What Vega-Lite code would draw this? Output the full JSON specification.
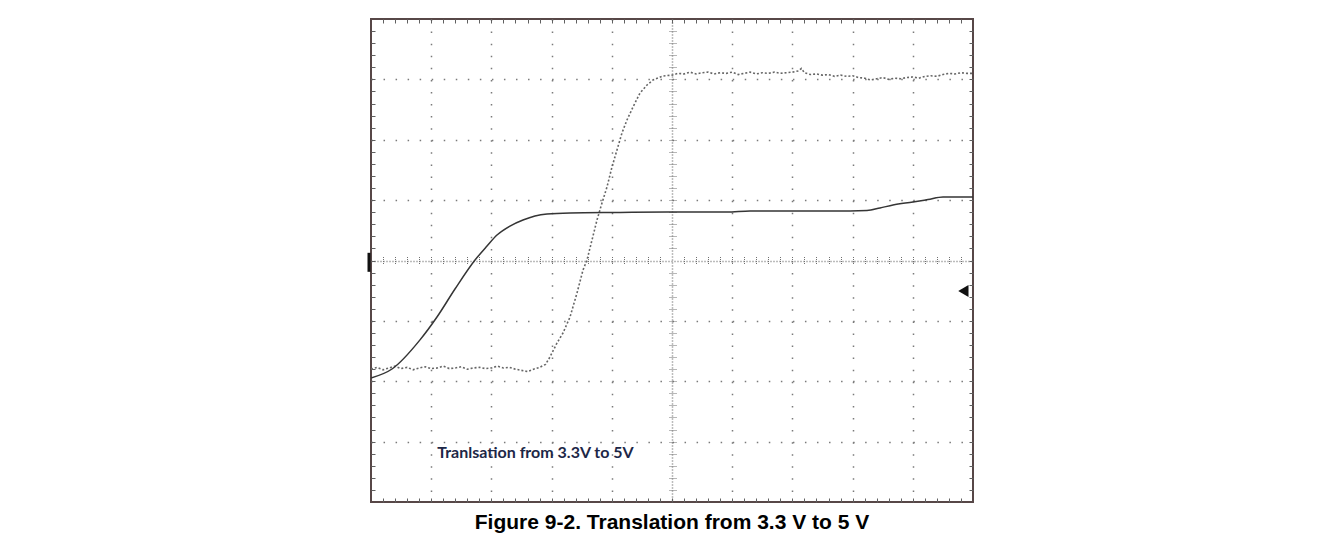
{
  "$schema": "https://vega.github.io/schema/vega-lite/v6.json",
  "width": 602,
  "height": 483,
  "autosize": "none",
  "padding": {"left": 371, "top": 19, "right": 363, "bottom": 48},
  "background": "#ffffff",
  "title": {"text": "Figure 9-2. Translation from 3.3 V to 5 V", "orient": "bottom", "anchor": "middle", "font": "Liberation Sans", "fontSize": 21, "fontWeight": "bold", "color": "#000000", "offset": 9, "baseline": "top"},
  "config": {"view": {"stroke": "#574747", "strokeWidth": 2}},
  "datasets": {
    "input": [
      {"t": 0, "v": -1.946}, {"t": 0.349, "v": -1.797}, {"t": 0.814, "v": -1.315}, {"t": 1.096, "v": -0.936},
      {"t": 1.395, "v": -0.472}, {"t": 1.728, "v": 0.008}, {"t": 1.927, "v": 0.24}, {"t": 2.093, "v": 0.422},
      {"t": 2.309, "v": 0.571}, {"t": 2.525, "v": 0.671}, {"t": 2.724, "v": 0.737}, {"t": 2.924, "v": 0.77},
      {"t": 3.306, "v": 0.787}, {"t": 4.136, "v": 0.795}, {"t": 5.0, "v": 0.803}, {"t": 5.914, "v": 0.803},
      {"t": 6.296, "v": 0.82}, {"t": 7.126, "v": 0.82}, {"t": 7.957, "v": 0.82}, {"t": 8.239, "v": 0.828},
      {"t": 8.455, "v": 0.87}, {"t": 8.671, "v": 0.919}, {"t": 9.003, "v": 0.969}, {"t": 9.252, "v": 1.01},
      {"t": 9.502, "v": 1.052}, {"t": 9.751, "v": 1.052}, {"t": 10, "v": 1.052}
    ],
    "output": [
      {"t": 0, "v": -1.8}, {"t": 0.1, "v": -1.77}, {"t": 0.2, "v": -1.81}, {"t": 0.3, "v": -1.78}, {"t": 0.4, "v": -1.75},
      {"t": 0.5, "v": -1.79}, {"t": 0.6, "v": -1.77}, {"t": 0.7, "v": -1.81}, {"t": 0.8, "v": -1.78}, {"t": 0.9, "v": -1.76},
      {"t": 1.0, "v": -1.79}, {"t": 1.1, "v": -1.78}, {"t": 1.2, "v": -1.75}, {"t": 1.3, "v": -1.79}, {"t": 1.4, "v": -1.78},
      {"t": 1.5, "v": -1.76}, {"t": 1.6, "v": -1.8}, {"t": 1.7, "v": -1.78}, {"t": 1.8, "v": -1.77}, {"t": 1.9, "v": -1.79},
      {"t": 2.0, "v": -1.78}, {"t": 2.1, "v": -1.75}, {"t": 2.2, "v": -1.78}, {"t": 2.3, "v": -1.77}, {"t": 2.4, "v": -1.8},
      {"t": 2.5, "v": -1.82}, {"t": 2.6, "v": -1.84}, {"t": 2.7, "v": -1.8}, {"t": 2.8, "v": -1.77}, {"t": 2.9, "v": -1.72},
      {"t": 2.973, "v": -1.598}, {"t": 3.09, "v": -1.366}, {"t": 3.189, "v": -1.201}, {"t": 3.306, "v": -0.936},
      {"t": 3.422, "v": -0.538}, {"t": 3.522, "v": -0.157}, {"t": 3.588, "v": 0.008}, {"t": 3.671, "v": 0.339},
      {"t": 3.754, "v": 0.671}, {"t": 3.837, "v": 0.952}, {"t": 3.92, "v": 1.217}, {"t": 4.003, "v": 1.549},
      {"t": 4.086, "v": 1.83}, {"t": 4.169, "v": 2.112}, {"t": 4.252, "v": 2.327}, {"t": 4.352, "v": 2.542},
      {"t": 4.468, "v": 2.774}, {"t": 4.585, "v": 2.907}, {"t": 4.684, "v": 2.989}, {"t": 4.85, "v": 3.056},
      {"t": 5.0, "v": 3.07}, {"t": 5.1, "v": 3.1}, {"t": 5.2, "v": 3.09}, {"t": 5.3, "v": 3.12}, {"t": 5.4, "v": 3.09},
      {"t": 5.5, "v": 3.11}, {"t": 5.6, "v": 3.12}, {"t": 5.7, "v": 3.09}, {"t": 5.8, "v": 3.11}, {"t": 5.9, "v": 3.1},
      {"t": 6.0, "v": 3.12}, {"t": 6.1, "v": 3.08}, {"t": 6.2, "v": 3.1}, {"t": 6.3, "v": 3.12}, {"t": 6.4, "v": 3.09},
      {"t": 6.5, "v": 3.11}, {"t": 6.6, "v": 3.1}, {"t": 6.7, "v": 3.12}, {"t": 6.8, "v": 3.1}, {"t": 6.9, "v": 3.11},
      {"t": 7.0, "v": 3.12}, {"t": 7.1, "v": 3.14}, {"t": 7.15, "v": 3.18}, {"t": 7.2, "v": 3.11}, {"t": 7.3, "v": 3.08},
      {"t": 7.4, "v": 3.09}, {"t": 7.5, "v": 3.07}, {"t": 7.6, "v": 3.08}, {"t": 7.7, "v": 3.05}, {"t": 7.8, "v": 3.07},
      {"t": 7.9, "v": 3.05}, {"t": 8.0, "v": 3.06}, {"t": 8.1, "v": 3.03}, {"t": 8.2, "v": 3.02}, {"t": 8.3, "v": 2.99},
      {"t": 8.4, "v": 3.01}, {"t": 8.5, "v": 3.03}, {"t": 8.6, "v": 3.0}, {"t": 8.7, "v": 3.02}, {"t": 8.8, "v": 3.01},
      {"t": 8.9, "v": 3.03}, {"t": 9.0, "v": 3.04}, {"t": 9.1, "v": 3.02}, {"t": 9.2, "v": 3.05}, {"t": 9.3, "v": 3.06},
      {"t": 9.4, "v": 3.05}, {"t": 9.5, "v": 3.08}, {"t": 9.6, "v": 3.1}, {"t": 9.7, "v": 3.09}, {"t": 9.8, "v": 3.11},
      {"t": 9.9, "v": 3.1}, {"t": 10.0, "v": 3.1}
    ]
  },
  "resolve": {"axis": {"x": "independent", "y": "independent"}},
  "layer": [
    {
      "data": {"name": "output"},
      "mark": {"type": "line", "stroke": "#666666", "strokeWidth": 1.6, "strokeDash": [2, 2], "clip": true},
      "encoding": {
        "x": {"field": "t", "type": "quantitative", "scale": {"domain": [0, 10], "nice": false, "zero": false},
          "axis": {"orient": "bottom", "offset": -4, "title": null, "labels": false, "domain": false, "ticks": true, "tickSize": 4, "tickColor": "#606060", "tickWidth": 1,
            "grid": true, "gridColor": "#7a7a7a", "gridWidth": 1.5,
            "gridOpacity": {"condition": {"test": "datum.value % 1 === 0", "value": 1}, "value": 0},
            "gridDash": {"condition": {"test": "datum.value === 5", "value": [1, 2]}, "value": [1.5, 10.575]},
            "values": [0.2,0.4,0.6,0.8,1,1.2,1.4,1.6,1.8,2,2.2,2.4,2.6,2.8,3,3.2,3.4,3.6,3.8,4,4.2,4.4,4.6,4.8,5,5.2,5.4,5.6,5.8,6,6.2,6.4,6.6,6.8,7,7.2,7.4,7.6,7.8,8,8.2,8.4,8.6,8.8,9,9.2,9.4,9.6,9.8]}},
        "y": {"field": "v", "type": "quantitative", "scale": {"domain": [-4, 4], "nice": false, "zero": false},
          "axis": {"orient": "left", "offset": -4, "title": null, "labels": false, "domain": false, "ticks": true, "tickSize": 4, "tickColor": "#606060", "tickWidth": 1,
            "grid": true, "gridColor": "#7a7a7a", "gridWidth": 1.5,
            "gridOpacity": {"condition": {"test": "datum.value % 1 === 0", "value": 1}, "value": 0},
            "gridDash": {"condition": {"test": "datum.value === 0", "value": [1, 2]}, "value": [1.5, 10.54]},
            "values": [-3.8,-3.6,-3.4,-3.2,-3,-2.8,-2.6,-2.4,-2.2,-2,-1.8,-1.6,-1.4,-1.2,-1,-0.8,-0.6,-0.4,-0.2,0,0.2,0.4,0.6,0.8,1,1.2,1.4,1.6,1.8,2,2.2,2.4,2.6,2.8,3,3.2,3.4,3.6,3.8]}}
      }
    },
    {
      "data": {"name": "input"},
      "mark": {"type": "line", "stroke": "#353535", "strokeWidth": 1.5, "interpolate": "monotone", "clip": true},
      "encoding": {
        "x": {"field": "t", "type": "quantitative",
          "axis": {"orient": "top", "offset": -4, "title": null, "labels": false, "domain": false, "grid": false, "ticks": true, "tickSize": 4, "tickColor": "#606060", "tickWidth": 1,
            "values": [0.2,0.4,0.6,0.8,1,1.2,1.4,1.6,1.8,2,2.2,2.4,2.6,2.8,3,3.2,3.4,3.6,3.8,4,4.2,4.4,4.6,4.8,5,5.2,5.4,5.6,5.8,6,6.2,6.4,6.6,6.8,7,7.2,7.4,7.6,7.8,8,8.2,8.4,8.6,8.8,9,9.2,9.4,9.6,9.8]}},
        "y": {"field": "v", "type": "quantitative",
          "axis": {"orient": "right", "offset": -4, "title": null, "labels": false, "domain": false, "grid": false, "ticks": true, "tickSize": 4, "tickColor": "#606060", "tickWidth": 1,
            "values": [-3.8,-3.6,-3.4,-3.2,-3,-2.8,-2.6,-2.4,-2.2,-2,-1.8,-1.6,-1.4,-1.2,-1,-0.8,-0.6,-0.4,-0.2,0,0.2,0.4,0.6,0.8,1,1.2,1.4,1.6,1.8,2,2.2,2.4,2.6,2.8,3,3.2,3.4,3.6,3.8]}}
      }
    },
    {
      "data": {"values": [{}]},
      "mark": {"type": "text", "font": "Lato", "fontWeight": "bold", "fontSize": 16, "align": "left", "baseline": "middle", "color": "#1d2747"},
      "encoding": {
        "x": {"datum": 1.1, "type": "quantitative",
          "axis": {"orient": "bottom", "offset": -245.5, "title": null, "labels": false, "domain": false, "grid": false, "ticks": true, "tickSize": 8, "tickColor": "#707070", "tickWidth": 1, "tickDash": [1, 1],
            "values": [0.2,0.4,0.6,0.8,1,1.2,1.4,1.6,1.8,2,2.2,2.4,2.6,2.8,3,3.2,3.4,3.6,3.8,4,4.2,4.4,4.6,4.8,5.2,5.4,5.6,5.8,6,6.2,6.4,6.6,6.8,7,7.2,7.4,7.6,7.8,8,8.2,8.4,8.6,8.8,9,9.2,9.4,9.6,9.8]}},
        "y": {"datum": -3.19, "type": "quantitative",
          "axis": {"orient": "left", "offset": -305, "title": null, "labels": false, "domain": false, "grid": false, "ticks": true, "tickSize": 8, "tickColor": "#707070", "tickWidth": 1, "tickDash": [1, 1],
            "values": [-3.8,-3.6,-3.4,-3.2,-3,-2.8,-2.6,-2.4,-2.2,-2,-1.8,-1.6,-1.4,-1.2,-1,-0.8,-0.6,-0.4,-0.2,0.2,0.4,0.6,0.8,1,1.2,1.4,1.6,1.8,2,2.2,2.4,2.6,2.8,3,3.2,3.4,3.6,3.8]}},
        "text": {"value": "Tranlsation from 3.3V to 5V"}
      }
    },
    {
      "data": {"values": [{}]},
      "mark": {"type": "tick", "orient": "vertical", "size": 19, "thickness": 3, "color": "#111111", "opacity": 1, "xOffset": -2},
      "encoding": {
        "x": {"datum": 0, "type": "quantitative", "axis": null},
        "y": {"datum": -0.03, "type": "quantitative", "axis": null}
      }
    },
    {
      "data": {"values": [{}]},
      "mark": {"type": "point", "shape": "triangle-left", "filled": true, "size": 140, "color": "#111111", "opacity": 1},
      "encoding": {
        "x": {"datum": 9.84, "type": "quantitative", "axis": null},
        "y": {"datum": -0.505, "type": "quantitative", "axis": null}
      }
    }
  ]
}
